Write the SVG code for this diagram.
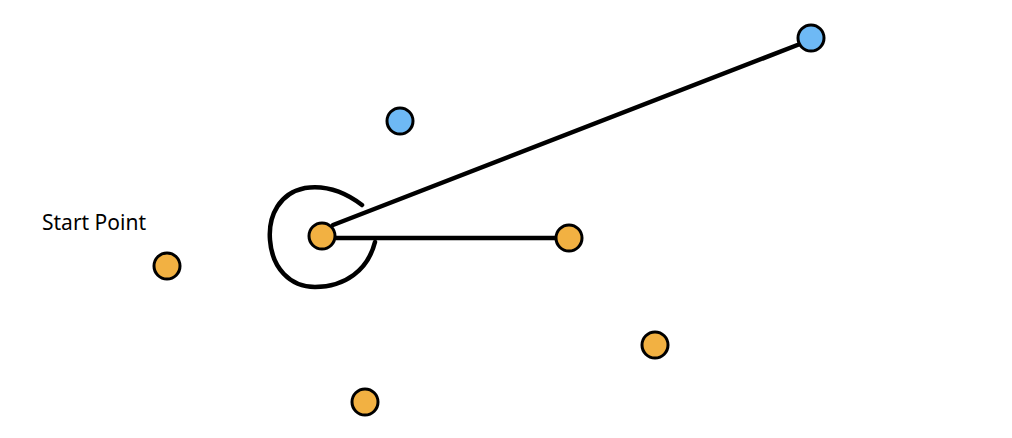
<svg xmlns="http://www.w3.org/2000/svg" width="1012" height="438" viewBox="0 0 1012 438">
<style>
.o{fill:#F2B142;stroke:#000;stroke-width:3}
.b{fill:#6EB9F5;stroke:#000;stroke-width:3}
.l{stroke:#000;stroke-width:4.5;fill:none;stroke-linecap:round}
text{font-family:"Noto Sans",sans-serif;font-size:21px;fill:#000}
</style>
<rect width="1012" height="438" fill="#fff"/>
<g id="connectors">
<line class="l" x1="333" y1="225" x2="800" y2="44"/>
<line class="l" x1="336" y1="238" x2="556" y2="238"/>
<path class="l" d="M362,205 C345,192 325,185 305,188 C280,193 268,215 270,240 C272,268 290,287 315,287 C345,287 368,270 375,242"/>
</g>
<g id="start"><text x="42" y="230">Start Point</text><circle class="o" cx="167" cy="266" r="13"/></g>
<g id="center"><circle class="o" cx="322" cy="236" r="13"/></g>
<g id="n1"><circle class="o" cx="569" cy="238" r="13"/></g>
<g id="n2"><circle class="o" cx="655" cy="345" r="13"/></g>
<g id="n3"><circle class="o" cx="365" cy="402" r="13"/></g>
<g id="b1"><circle class="b" cx="400" cy="121" r="13"/></g>
<g id="b2"><circle class="b" cx="811" cy="38" r="13"/></g>
</svg>
